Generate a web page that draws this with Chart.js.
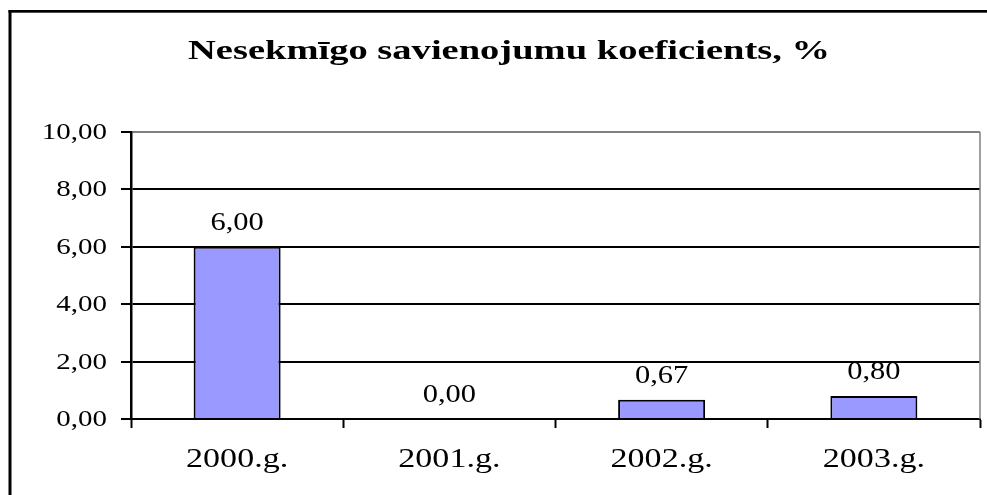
<!DOCTYPE html>
<html>
<head>
<meta charset="utf-8">
<script src="https://cdn.jsdelivr.net/npm/chart.js@4"></script>
<style>
  html, body { margin: 0; padding: 0; background: #fff; }
  #wrap { width: 987px; height: 495px; }
</style>
</head>
<body>
<div id="wrap"><canvas id="grafiks"></canvas></div>
<script>
const virsraksts = 'Nesekmīgo savienojumu koeficients, %';
const gadi = ['2000.g.', '2001.g.', '2002.g.', '2003.g.'];
const koeficienti = [6.00, 0.00, 0.67, 0.80];
const yMin = 0;
const yMax = 10;
const ySolis = 2;

const serif = "'Liberation Serif', 'Times New Roman', serif";
const stiepums = 1.26; // oriģinālais attēls ir horizontāli izstiepts

function formats(v) {
    return v.toFixed(2).replace('.', ',');
}

// teksts ar horizontālu izstiepumu
function platsTeksts(ctx, teksts, x, y, sx, lidzinat) {
    ctx.save();
    ctx.translate(x, y);
    ctx.scale(sx, 1);
    ctx.textAlign = lidzinat;
    ctx.fillText(teksts, 0, 0);
    ctx.restore();
}

const zimejumi = {
    id: 'zimejumi',
    afterDatasetsDraw(chart) {
        const ctx = chart.ctx;
        const meta = chart.getDatasetMeta(0);
        ctx.save();
        ctx.font = '25px ' + serif;
        ctx.fillStyle = '#000';
        ctx.textBaseline = 'alphabetic';
        meta.data.forEach((bar, i) => {
            platsTeksts(ctx, formats(koeficienti[i]), bar.x, bar.y - 17, 1.22, 'center');
        });
        ctx.restore();
    },
    afterDraw(chart) {
        const ctx = chart.ctx;
        const a = chart.chartArea;
        const xs = chart.scales.x;
        const ys = chart.scales.y;
        ctx.save();
        ctx.fillStyle = '#000';

        // y ass vērtības
        ctx.font = '23px ' + serif;
        ctx.textBaseline = 'middle';
        ys.ticks.forEach((t, i) => {
            platsTeksts(ctx, formats(t.value), 107, ys.getPixelForTick(i) + 1, stiepums, 'right');
        });

        // x ass kategorijas
        ctx.font = '27px ' + serif;
        ctx.textBaseline = 'alphabetic';
        xs.ticks.forEach((t, i) => {
            platsTeksts(ctx, gadi[i], xs.getPixelForTick(i), 467, stiepums, 'center');
        });

        // pelēkā labā mala
        ctx.strokeStyle = '#808080';
        ctx.lineWidth = 1.5;
        ctx.beginPath();
        ctx.moveTo(a.right, a.top);
        ctx.lineTo(a.right, a.bottom);
        ctx.stroke();

        // ārējais rāmis
        ctx.fillRect(8.5, 10, 3, chart.height);
        ctx.fillRect(8.5, 10, chart.width, 2.7);

        // virsraksts
        ctx.font = 'bold 27px ' + serif;
        const sx = 642 / ctx.measureText(virsraksts).width;
        platsTeksts(ctx, virsraksts, 509, 59, sx, 'center');
        ctx.restore();
    }
};

const ctx = document.getElementById('grafiks').getContext('2d');
window.grafiks = new Chart(ctx, {
    type: 'bar',
    data: {
        labels: gadi,
        datasets: [{
            data: koeficienti,
            backgroundColor: '#9999FF',
            borderColor: '#000',
            borderWidth: 2,
            categoryPercentage: 1,
            barPercentage: 0.41
        }]
    },
    options: {
        responsive: true,
        maintainAspectRatio: false,
        animation: false,
        devicePixelRatio: 1,
        layout: { padding: { top: 132, right: 7, bottom: 0, left: 0 } },
        plugins: {
            legend: { display: false },
            title: { display: false },
            tooltip: { enabled: false }
        },
        scales: {
            x: {
                offset: true,
                afterFit(scale) { scale.height = 76; },
                grid: {
                    offset: true,
                    drawOnChartArea: false,
                    tickLength: 9,
                    tickColor: '#000',
                    tickWidth: 2
                },
                border: { color: '#000', width: 2 },
                ticks: { display: false }
            },
            y: {
                min: yMin,
                max: yMax,
                afterFit(scale) { scale.width = 131; },
                grid: {
                    color: c => (c.tick && c.tick.value === yMax) ? '#808080' : '#000',
                    lineWidth: 2,
                    tickLength: 10,
                    tickColor: '#000',
                    tickWidth: 2
                },
                border: { color: '#000', width: 2.5 },
                ticks: { display: false, stepSize: ySolis }
            }
        }
    },
    plugins: [zimejumi]
});
</script>
</body>
</html>
